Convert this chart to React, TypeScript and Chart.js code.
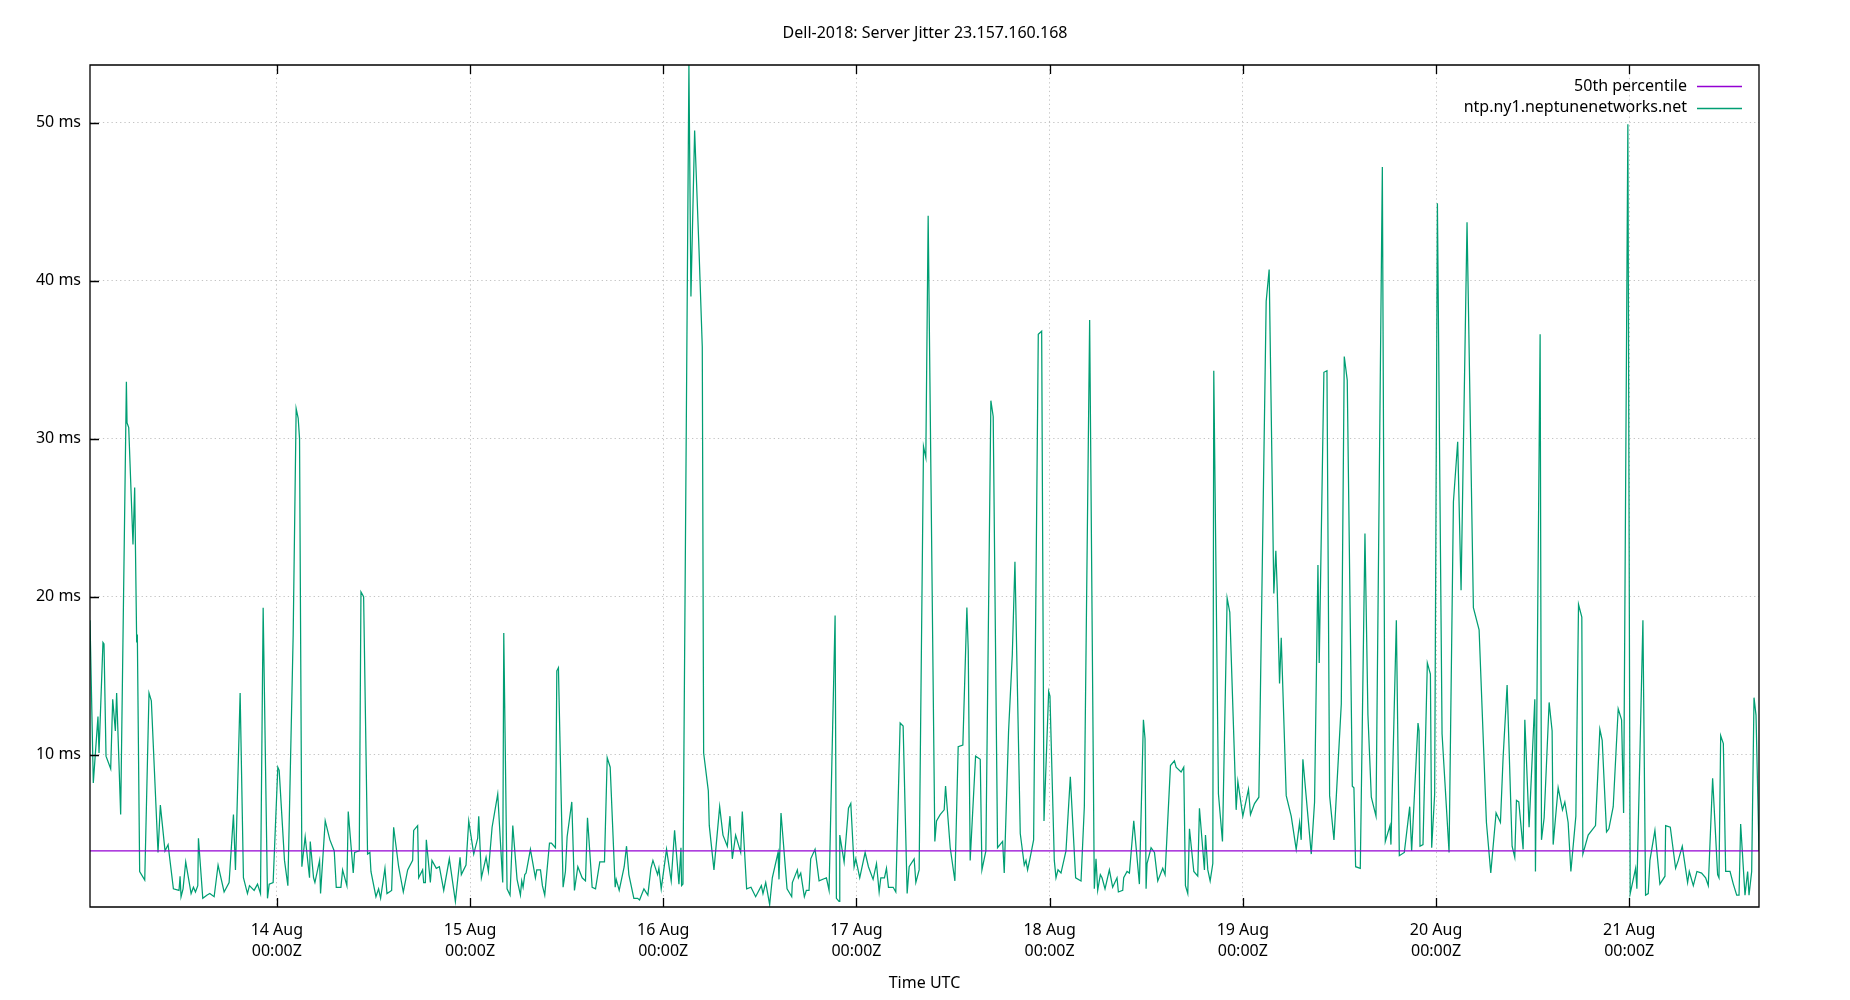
import React, { useEffect, useRef } from "react";
import { Chart, registerables } from "chart.js";

Chart.register(...registerables);

// Hours since 13 Aug 00:00 UTC, jitter in ms
const jitterSamples: [number, number][] = [
  [0.79, 18.5], [1.2, 8.2], [1.78, 12.4], [1.91, 10.1], [2.4, 17.1], [2.53, 17.0], [2.78, 9.9], [3.36, 9.1], [3.61, 13.5], [3.94, 11.5], [4.1, 13.9], [4.6, 6.2], [5.31, 33.6], [5.39, 31.0], [5.6, 30.7], [6.13, 23.3], [6.34, 26.9], [6.59, 17.1], [6.67, 17.6], [6.96, 2.6], [7.59, 2.05], [8.12, 13.9], [8.41, 13.4], [9.24, 3.8], [9.53, 6.8], [10.11, 3.9], [10.49, 4.3], [11.15, 1.5], [11.85, 1.4], [11.98, 2.3], [12.1, 1.0], [12.35, 1.5], [12.68, 3.2], [13.35, 1.2], [13.64, 1.6], [13.89, 1.3], [14.18, 1.7], [14.26, 4.7], [14.8, 0.9], [15.3, 1.1], [15.67, 1.2], [16.21, 1.0], [16.7, 3.0], [17.45, 1.3], [18.07, 1.9], [18.61, 6.2], [18.86, 2.7], [19.44, 13.9], [19.85, 2.2], [20.35, 1.2], [20.6, 1.7], [21.18, 1.4], [21.6, 1.8], [21.97, 1.2], [22.3, 19.3], [22.84, 0.9], [23.05, 1.8], [23.54, 1.9],
  [24.12, 9.2], [24.29, 9.0], [24.95, 3.3], [25.37, 1.7], [26.03, 17.6], [26.4, 31.9], [26.65, 31.3], [26.82, 30.0], [27.11, 2.9], [27.52, 4.8], [28.06, 2.2], [28.15, 4.5], [28.56, 2.2], [28.73, 1.9], [29.31, 3.3], [29.43, 1.2], [30.01, 5.8], [30.59, 4.6], [31.13, 3.9], [31.38, 1.6], [31.96, 1.6], [32.17, 2.7], [32.7, 1.7], [32.87, 6.4], [33.49, 2.5], [33.66, 3.8], [34.24, 3.9], [34.45, 20.3], [34.78, 20.0], [35.27, 3.7], [35.56, 3.8], [35.69, 2.6], [36.31, 1.0], [36.64, 1.5], [36.89, 0.9], [37.43, 2.8], [37.68, 1.2], [38.26, 1.4], [38.51, 5.4], [39.13, 2.9], [39.71, 1.3], [40.25, 2.7], [40.87, 3.3], [41.0, 5.2], [41.49, 5.5], [41.62, 2.2], [42.11, 2.7], [42.24, 1.9], [42.45, 1.9], [42.57, 4.6], [43.07, 1.9], [43.27, 3.3], [43.81, 2.8], [44.19, 2.9], [44.73, 1.4], [45.43, 3.4], [46.18, 0.7], [46.76, 3.5], [46.92, 2.4], [47.5, 3.0], [47.84, 5.8],
  [48.46, 3.7], [48.95, 4.7], [49.08, 6.1], [49.41, 2.2], [49.99, 3.5], [50.28, 2.6], [50.74, 5.4], [51.44, 7.5], [52.06, 1.9], [52.19, 17.7], [52.6, 1.5], [52.97, 1.1], [53.31, 5.5], [53.84, 2.1], [54.26, 1.1], [54.42, 2.0], [54.59, 1.6], [54.8, 2.4], [54.96, 2.5], [55.5, 4.0], [56.12, 2.2], [56.29, 2.7], [56.75, 2.7], [56.99, 1.7], [57.28, 1.1], [57.87, 4.4], [58.11, 4.4], [58.61, 4.1], [58.78, 15.3], [58.98, 15.5], [59.56, 1.6], [59.85, 2.6], [60.06, 4.8], [60.64, 7.0], [60.97, 1.4], [61.39, 2.9], [61.93, 2.2], [62.34, 2.0], [62.59, 6.0], [63.17, 1.6], [63.59, 1.5], [64.12, 3.2], [64.7, 3.2], [65.04, 9.8], [65.41, 9.2], [66.03, 1.6], [66.16, 2.1], [66.53, 1.4], [67.15, 2.9], [67.44, 4.2], [67.73, 2.4], [68.35, 0.9], [68.81, 0.9], [69.06, 0.8], [69.6, 1.5], [70.09, 1.1], [70.47, 2.8], [70.72, 3.3], [71.3, 2.4], [71.46, 2.8], [71.75, 1.5],
  [72.41, 4.0], [72.99, 2.0], [73.41, 5.2], [73.95, 1.8], [74.2, 4.1], [74.28, 1.7], [74.45, 1.8], [75.19, 53.65], [75.44, 39.0], [75.9, 49.5], [76.44, 42.0], [76.85, 35.8], [77.02, 10.1], [77.6, 7.7], [77.72, 5.5], [78.3, 2.7], [79.01, 6.7], [79.42, 4.9], [79.96, 4.2], [80.29, 6.1], [80.58, 3.4], [80.99, 4.9], [81.62, 3.8], [81.82, 6.4], [82.36, 1.5], [82.9, 1.6], [83.48, 1.0], [84.19, 1.7], [84.39, 1.2], [84.73, 1.9], [85.22, 0.5], [85.55, 2.2], [86.26, 3.8], [86.38, 2.1], [86.63, 6.3], [87.38, 1.5], [87.96, 1.0], [88.04, 1.9], [88.66, 2.7], [88.79, 2.2], [89.08, 2.5], [89.53, 1.0], [89.78, 1.4], [90.11, 1.4], [90.32, 3.4], [90.86, 4.0], [91.36, 2.0], [92.27, 2.2], [92.6, 1.4], [93.35, 18.8], [93.51, 0.9], [93.84, 0.7], [93.93, 4.9], [94.47, 3.2], [95.01, 6.6], [95.3, 6.9], [95.71, 2.9], [95.92, 3.4],
  [96.41, 2.2], [97.08, 3.8], [97.49, 2.9], [98.07, 2.1], [98.49, 3.1], [98.82, 1.3], [99.03, 2.2], [99.48, 2.2], [99.73, 2.8], [99.98, 1.6], [100.56, 1.6], [100.89, 1.3], [101.43, 12.0], [101.8, 11.8], [102.3, 1.2], [102.55, 2.9], [103.17, 3.4], [103.38, 1.9], [103.79, 2.7], [104.33, 29.5], [104.62, 28.8], [104.91, 44.1], [105.74, 4.5], [105.95, 5.8], [106.4, 6.2], [106.9, 6.5], [107.07, 8.0], [107.65, 4.1], [108.23, 2.0], [108.64, 10.5], [109.22, 10.6], [109.72, 19.3], [109.89, 16.6], [110.13, 3.3], [110.8, 9.9], [111.38, 9.7], [111.59, 2.7], [112.08, 3.9], [112.7, 32.4], [112.99, 31.4], [113.53, 4.1], [114.16, 4.5], [114.36, 2.5], [114.9, 11.5], [115.36, 16.3], [115.69, 22.2], [116.35, 5.0], [116.85, 3.0], [117.06, 3.3], [117.26, 2.7], [117.55, 3.4], [118.01, 4.6], [118.59, 36.6], [119.01, 36.8], [119.3, 5.8], [119.88, 14.0],
  [120.04, 13.7], [120.58, 3.3], [120.79, 2.2], [121.04, 2.7], [121.41, 2.5], [122.03, 3.9], [122.57, 8.6], [123.23, 2.2], [123.9, 2.0], [124.31, 6.7], [124.97, 37.5], [125.55, 1.5], [125.76, 3.4], [125.97, 1.4], [126.3, 2.4], [126.51, 2.2], [126.88, 1.5], [127.42, 2.7], [127.83, 1.6], [128.37, 2.2], [128.54, 1.3], [129.08, 1.4], [129.2, 2.2], [129.62, 2.6], [129.91, 2.5], [130.45, 5.8], [131.15, 1.8], [131.65, 12.2], [131.85, 11.0], [131.98, 1.5], [132.1, 3.1], [132.6, 4.1], [133.02, 3.8], [133.43, 2.0], [134.05, 2.8], [134.34, 2.4], [135.01, 9.3], [135.5, 9.6], [135.71, 9.2], [136.33, 8.9], [136.66, 9.2], [136.87, 1.7], [137.16, 1.2], [137.37, 5.3], [137.91, 2.6], [138.4, 2.3], [138.61, 6.6], [139.23, 2.7], [139.36, 4.9], [139.65, 2.7], [139.94, 2.0], [140.27, 3.1], [140.39, 34.3], [140.97, 7.5], [141.47, 4.5], [142.05, 19.9], [142.38, 19.0], [143.17, 6.5], [143.38, 8.3],
  [144.0, 6.1], [144.7, 7.8], [144.95, 6.2], [145.45, 6.9], [145.99, 7.3], [146.9, 38.7], [147.27, 40.7], [147.85, 20.2], [148.1, 22.9], [148.27, 20.5], [148.56, 14.5], [148.77, 17.4], [149.39, 7.4], [150.01, 6.1], [150.63, 4.0], [151.05, 5.7], [151.25, 4.6], [151.46, 9.7], [152.5, 3.7], [152.91, 7.0], [153.33, 22.0], [153.49, 15.8], [154.07, 34.2], [154.45, 34.3], [154.78, 7.4], [155.32, 4.6], [156.23, 13.2], [156.6, 35.2], [156.97, 33.7], [157.6, 8.0], [157.8, 7.9], [158.01, 2.9], [158.59, 2.8], [159.17, 24.0], [159.54, 12.5], [159.96, 7.3], [160.54, 6.1], [161.33, 47.2], [161.7, 4.5], [162.28, 5.5], [162.4, 4.3], [163.07, 18.5], [163.44, 3.6], [164.06, 3.8], [164.73, 6.7], [164.97, 3.9], [165.76, 12.0], [165.89, 11.5], [166.01, 4.2], [166.38, 4.3], [166.92, 15.8], [167.3, 15.1], [167.46, 4.1], [167.83, 7.5],
  [168.17, 44.9], [168.75, 11.3], [169.62, 3.8], [170.16, 26.0], [170.69, 29.8], [171.11, 20.4], [171.85, 43.7], [172.64, 19.3], [173.35, 17.9], [174.26, 5.7], [174.8, 2.5], [175.46, 6.3], [176.0, 5.7], [176.33, 9.8], [176.83, 14.4], [177.45, 4.2], [177.78, 3.5], [177.99, 7.1], [178.28, 7.0], [178.82, 4.0], [179.03, 12.2], [179.56, 5.4], [180.27, 13.5], [180.35, 2.6], [180.93, 36.6], [181.1, 4.6], [181.43, 6.0], [182.05, 13.3], [182.42, 11.5], [182.55, 4.3], [183.17, 7.9], [183.71, 6.5], [184.0, 7.0], [184.41, 5.7], [184.75, 2.6], [185.37, 6.1], [185.7, 19.5], [186.11, 18.7], [186.24, 3.7], [186.9, 4.9], [187.81, 5.5], [188.35, 11.6], [188.64, 10.9], [189.18, 5.1], [189.47, 5.3], [190.01, 6.7], [190.63, 12.9], [191.05, 12.2], [191.3, 6.3], [191.83, 49.9],
  [192.12, 1.2], [192.79, 2.8], [192.95, 1.5], [193.7, 18.5], [194.03, 1.1], [194.36, 1.2], [194.57, 3.3], [195.19, 5.2], [195.81, 1.8], [196.44, 2.3], [196.52, 5.5], [197.1, 5.4], [197.76, 2.8], [198.09, 3.3], [198.59, 4.2], [199.25, 1.9], [199.46, 2.6], [199.96, 1.7], [200.41, 2.6], [200.99, 2.5], [201.49, 2.2], [201.82, 1.7], [202.36, 8.5], [202.98, 2.4], [203.15, 2.2], [203.36, 11.2], [203.69, 10.7], [203.98, 2.6], [204.52, 2.6], [204.93, 1.8], [205.35, 1.1], [205.64, 1.1], [205.84, 5.6], [206.38, 1.1], [206.71, 2.6], [206.88, 1.1], [207.21, 2.6], [207.5, 13.6], [207.75, 12.5], [208.12, 3.9],
];

const percentile50 = 3.9;
const dayTickHours = [24, 48, 72, 96, 120, 144, 168, 192];
const dayTickLabels = ["14 Aug", "15 Aug", "16 Aug", "17 Aug", "18 Aug", "19 Aug", "20 Aug", "21 Aug"];
const yTickValues = [10, 20, 30, 40, 50];
const yRange = [0.35, 53.65];

const chartTitle = "Dell-2018: Server Jitter 23.157.160.168";
const seriesLabels = ["50th percentile", "ntp.ny1.neptunenetworks.net"];
const seriesColors = ["#9400d3", "#009e73"];

const FONT = '"Noto Sans", "DejaVu Sans", sans-serif';

const framePlugin = {
  id: "gnuplotFrame",
  afterDraw(chart: any) {
    const { ctx, chartArea } = chart;
    const { left, top, right, bottom } = chartArea;
    const xs = chart.scales.x;
    const ys = chart.scales.y;
    ctx.save();
    ctx.strokeStyle = "#000";
    ctx.lineWidth = 1.3;
    ctx.beginPath();
    ctx.rect(left, top, right - left, bottom - top);
    ctx.stroke();
    ctx.beginPath();
    for (const t of xs.ticks) {
      const px = Math.round(xs.getPixelForValue(t.value)) + 0.5;
      ctx.moveTo(px, bottom);
      ctx.lineTo(px, bottom - 9);
      ctx.moveTo(px, top);
      ctx.lineTo(px, top + 9);
    }
    for (const t of ys.ticks) {
      const py = Math.round(ys.getPixelForValue(t.value)) + 0.5;
      ctx.moveTo(left, py);
      ctx.lineTo(left + 9, py);
    }
    ctx.stroke();

    // title, centred on the whole canvas
    ctx.font = `16px ${FONT}`;
    ctx.fillStyle = "#000";
    ctx.textAlign = "center";
    ctx.textBaseline = "middle";
    ctx.fillText(chartTitle, chart.width / 2, 33);

    // legend (gnuplot style: text right-aligned, sample line on the right)
    ctx.textAlign = "right";
    chart.data.datasets.forEach((ds: any, i: number) => {
      const y = top + 21 + i * 21.7;
      ctx.fillStyle = "#000";
      ctx.fillText(ds.label, right - 72, y);
      ctx.strokeStyle = ds.borderColor;
      ctx.lineWidth = 1.3;
      ctx.beginPath();
      ctx.moveTo(right - 62, Math.round(y) + 0.5);
      ctx.lineTo(right - 17, Math.round(y) + 0.5);
      ctx.stroke();
    });
    ctx.restore();
  },
};

export default function App() {
  const canvasRef = useRef<HTMLCanvasElement | null>(null);

  useEffect(() => {
    if (!canvasRef.current) return;
    Chart.defaults.font.family = FONT;
    Chart.defaults.font.size = 16;
    Chart.defaults.color = "#000";

    const xMin = jitterSamples[0][0];
    const xMax = jitterSamples[jitterSamples.length - 1][0];

    const chart = new Chart(canvasRef.current, {
      type: "line",
      data: {
        datasets: [
          {
            label: seriesLabels[0],
            data: [
              { x: xMin, y: percentile50 },
              { x: xMax, y: percentile50 },
            ],
            borderColor: seriesColors[0],
            borderWidth: 1.3,
            pointRadius: 0,
            tension: 0,
          },
          {
            label: seriesLabels[1],
            data: jitterSamples.map(([x, y]) => ({ x, y })),
            borderColor: seriesColors[1],
            borderWidth: 1.25,
            pointRadius: 0,
            tension: 0,
          },
        ],
      },
      options: {
        animation: false,
        responsive: false,
        devicePixelRatio: 1,
        layout: { padding: { left: 0, right: 91, top: 65, bottom: 0 } },
        plugins: {
          legend: { display: false },
          tooltip: { enabled: false },
          title: { display: false },
        },
        scales: {
          x: {
            type: "linear",
            min: xMin,
            max: xMax,
            afterBuildTicks: (axis: any) => {
              axis.ticks = dayTickHours.map((v) => ({ value: v }));
            },
            afterFit: (scale: any) => {
              scale.height = 93;
            },
            ticks: {
              autoSkip: false,
              maxRotation: 0,
              minRotation: 0,
              padding: 12.25,
              color: "#000",
              font: { size: 16, family: FONT, lineHeight: 1.34 },
              callback: (_v: any, i: number) => [dayTickLabels[i], "00:00Z"],
            },
            grid: {
              color: "#c4c4c4",
              lineWidth: 1,
              drawTicks: false,
            },
            border: { display: false, dash: [1.3, 3] },
            title: {
              display: true,
              text: "Time UTC",
              color: "#000",
              font: { size: 16, family: FONT, lineHeight: 1.2 },
              padding: { top: 0, bottom: 7 },
            },
          },
          y: {
            type: "linear",
            min: yRange[0],
            max: yRange[1],
            afterBuildTicks: (axis: any) => {
              axis.ticks = yTickValues.map((v) => ({ value: v }));
            },
            afterFit: (scale: any) => {
              scale.width = 90;
            },
            ticks: {
              padding: 9,
              color: "#000",
              font: { size: 16, family: FONT },
              callback: (v: any) => `${v} ms`,
            },
            grid: {
              color: "#c4c4c4",
              lineWidth: 1,
              drawTicks: false,
            },
            border: { display: false, dash: [1.3, 3] },
          },
        },
      },
      plugins: [framePlugin],
    });

    return () => chart.destroy();
  }, []);

  return (
    <div style={{ position: "absolute", left: 0, top: 0, width: 1850, height: 1000, background: "#fff" }}>
      <canvas ref={canvasRef} width={1850} height={1000} style={{ display: "block", width: 1850, height: 1000 }} />
    </div>
  );
}
